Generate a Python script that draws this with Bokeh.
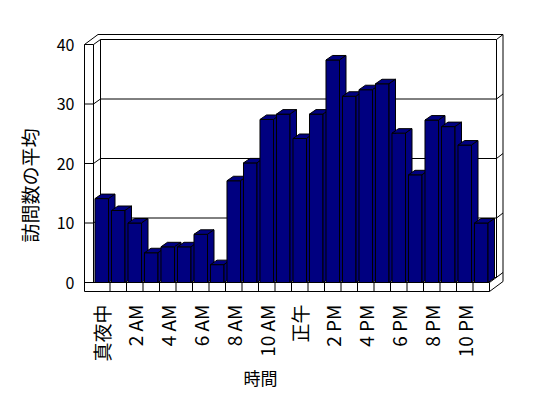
import math
from bokeh.plotting import figure
from bokeh.models import Range1d, FixedTicker, Title
from bokeh.embed import file_html
from bokeh.resources import INLINE

# ---- data ----
HOURS = list(range(24))
VISITS = [14.1, 12.1, 10.0, 5.0, 6.0, 6.0, 8.1, 3.0, 17.1, 20.1, 27.4, 28.3,
          24.2, 28.3, 37.4, 31.3, 32.4, 33.4, 25.1, 18.1, 27.3, 26.2, 23.1, 10.0]
TICK_HOURS = [0, 2, 4, 6, 8, 10, 12, 14, 16, 18, 20, 22]
TICK_LABELS = ["真夜中", "2 AM", "4 AM", "6 AM", "8 AM", "10 AM",
               "正午", "2 PM", "4 PM", "6 PM", "8 PM", "10 PM"]
Y_TICKS = [0, 10, 20, 30, 40]
GRID_VALUES = [10, 20, 30]
X_TITLE = "時間"
Y_TITLE = "訪問数の平均"

# ---- geometry (pixels per data unit, 3D offsets) ----
PX_X = 16.5
PX_Y = 5.95
FONT = "Noto Sans CJK JP"
NAVY = "#000080"

W, H = 548, 398
ML, MT = 83, 32
FW, FH = 421, 261
MR, MB = W - ML - FW, H - MT - FH

X0 = -0.5 - 10 / PX_X
X1 = X0 + FW / PX_X
Y1 = 250 / PX_Y
Y0 = Y1 - FH / PX_Y

XL = HOURS[0] - 0.5          # left of first slot
XR = HOURS[-1] + 0.5         # right of last slot
YMAX = Y_TICKS[-1]
WALL = 9 / PX_X              # left wall thickness
FLOOR = 9 / PX_Y             # floor thickness
D1 = (7 / PX_X, 5 / PX_Y)    # front -> back wall face
D2 = (13.5 / PX_X, 10 / PX_Y)  # front -> outer back
BD = (6.5 / PX_X, 4.5 / PX_Y)  # bar depth
BW = 0.41                    # half bar width

p = figure(width=W, height=H, output_backend="svg", toolbar_location=None,
           x_range=Range1d(X0, X1), y_range=Range1d(Y0, Y1),
           min_border_left=ML, min_border_right=MR, min_border_top=MT,
           min_border_bottom=MB)
p.outline_line_color = None
p.grid.visible = False
p.background_fill_color = "white"
p.border_fill_color = "white"

xl = XL - WALL
yb = -FLOOR

# outer outline of walls and floor
p.patch([xl, xl, xl + D2[0], XR + D2[0], XR + D2[0], XR],
        [yb, YMAX, YMAX + D2[1], YMAX + D2[1], yb + D2[1], yb],
        fill_color="white", line_color="black", line_width=1)
# back wall face
p.patch([XL + D1[0], XR + D1[0], XR + D1[0], XL + D1[0]],
        [D1[1], D1[1], YMAX + D1[1], YMAX + D1[1]],
        fill_color="white", line_color="black", line_width=1)

lx, ly = [], []
# left wall edges
lx.append([xl, XL, XL + D1[0]]); ly.append([YMAX, YMAX, YMAX + D1[1]])
lx.append([XL, XL]); ly.append([0, YMAX])
lx.append([XR + D1[0], XR + D2[0]]); ly.append([YMAX + D1[1], YMAX + D2[1]])
# floor
lx.append([xl, XR, XR + D2[0]]); ly.append([0, 0, D2[1]])
lx.append([XR, XR]); ly.append([0, yb])
for k in HOURS[1:]:
    lx.append([k - 0.5, k - 0.5]); ly.append([0, yb])
# gridlines
for g in GRID_VALUES:
    lx.append([xl, XL, XL + D1[0], XR + D1[0], XR + D2[0]])
    ly.append([g, g, g + D1[1], g + D1[1], g + D2[1]])
p.multi_line(lx, ly, line_color="black", line_width=1)

# bars
bxs, bys = [], []
for h, v in zip(HOURS, VISITS):
    a, b = h - BW, h + BW
    bxs.append([a, b, b, a]); bys.append([0, 0, v, v])
    bxs.append([a, b, b + BD[0], a + BD[0]]); bys.append([v, v, v + BD[1], v + BD[1]])
    bxs.append([b, b + BD[0], b + BD[0], b]); bys.append([0, BD[1], v + BD[1], v])
p.patches(bxs, bys, fill_color=NAVY, line_color="black", line_width=1)

# axes
p.yaxis.ticker = FixedTicker(ticks=Y_TICKS)
p.yaxis.axis_line_color = None
p.yaxis.major_tick_line_color = None
p.yaxis.minor_tick_line_color = None
p.yaxis.major_label_standoff = 3
p.yaxis.major_label_text_font = FONT
p.yaxis.major_label_text_font_size = "16px"
p.yaxis.major_label_text_color = "black"

p.xaxis.ticker = FixedTicker(ticks=TICK_HOURS)
p.xaxis.major_label_overrides = {h: t for h, t in zip(TICK_HOURS, TICK_LABELS)}
p.xaxis.major_label_orientation = math.pi / 2
p.xaxis.axis_line_color = None
p.xaxis.major_tick_line_color = None
p.xaxis.minor_tick_line_color = None
p.xaxis.major_label_standoff = 5
p.xaxis.major_label_text_font = FONT
p.xaxis.major_label_text_font_size = "19px"
p.xaxis.major_label_text_color = "black"

p.add_layout(Title(text=X_TITLE, align="left", offset=160, standoff=-4,
                   text_font=FONT, text_font_size="17px", text_font_style="normal",
                   text_color="black"), "below")
p.add_layout(Title(text=Y_TITLE, align="left", offset=51, standoff=22,
                   text_font=FONT, text_font_size="19px", text_font_style="normal",
                   text_color="black"), "left")

open("out.html", "w").write(file_html(p, INLINE))
